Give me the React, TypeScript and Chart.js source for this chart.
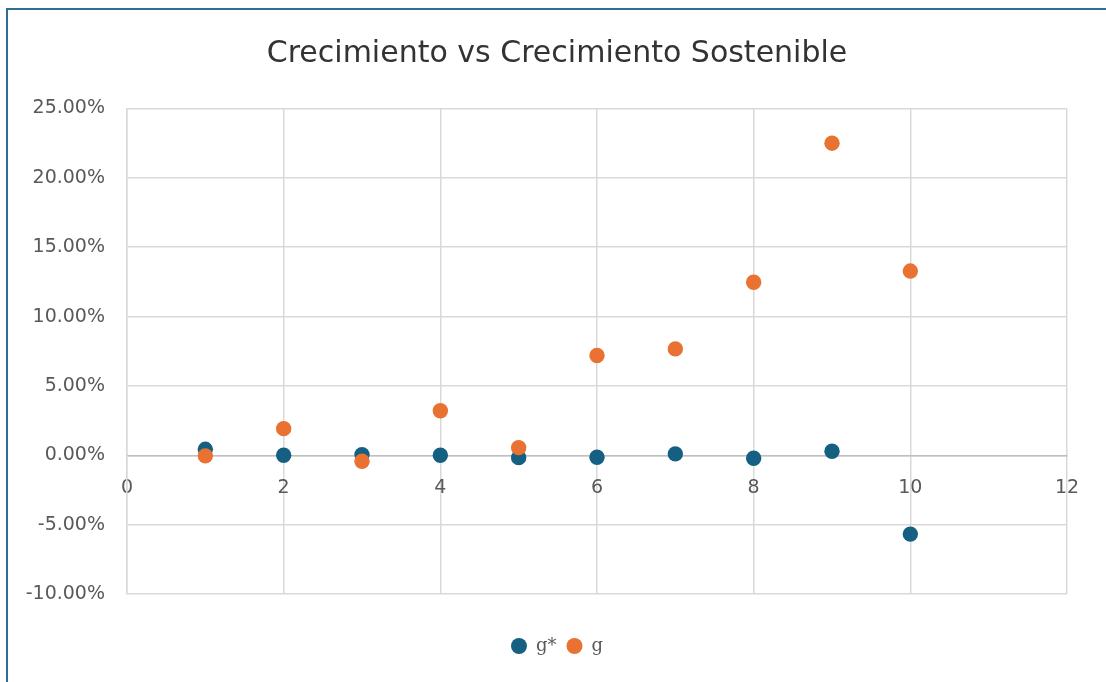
import React, { useEffect, useRef } from "react";
import { Chart, registerables } from "chart.js";

Chart.register(...registerables);

const chartTitle = "Crecimiento vs Crecimiento Sostenible";
const periods = [1, 2, 3, 4, 5, 6, 7, 8, 9, 10];
const gStarValues = [0.43, 0.0, 0.05, 0.0, -0.17, -0.14, 0.1, -0.21, 0.29, -5.68];
const gValues = [-0.04, 1.92, -0.43, 3.21, 0.55, 7.19, 7.67, 12.47, 22.5, 13.28];
const seriesLabels = ["g*", "g"];
const xTicks = { min: 0, max: 12, step: 2 };
const yTicks = { min: -10, max: 25, step: 5 };

const TEAL = "#156082";
const ORANGE = "#E97132";
const GRID = "#d9d9d9";
const TICK = "#595959";

export default function App() {
  const ref = useRef<HTMLCanvasElement | null>(null);

  useEffect(() => {
    if (!ref.current) return;
    const toPoints = (vals: number[]) => periods.map((x, i) => ({ x, y: vals[i] }));
    const chart = new Chart(ref.current, {
      type: "scatter",
      data: {
        datasets: [
          {
            label: seriesLabels[0],
            data: toPoints(gStarValues),
            backgroundColor: TEAL,
            borderColor: TEAL,
            pointRadius: 7.7,
            pointHoverRadius: 7.7,
            borderWidth: 0,
            order: 1,
          },
          {
            label: seriesLabels[1],
            data: toPoints(gValues),
            backgroundColor: ORANGE,
            borderColor: ORANGE,
            pointRadius: 7.7,
            pointHoverRadius: 7.7,
            borderWidth: 0,
            order: 0,
          },
        ],
      },
      options: {
        responsive: false,
        animation: false,
        events: [],
        layout: { padding: { top: 0, left: 0, right: 0, bottom: 17 } },
        scales: {
          x: {
            type: "linear",
            position: { y: 0 } as any,
            min: xTicks.min,
            max: xTicks.max,
            ticks: {
              stepSize: xTicks.step,
              color: TICK,
              padding: 21,
              font: { family: "DejaVu Sans", size: 19 },
              maxRotation: 0,
            },
            grid: { color: GRID, lineWidth: 1.5, drawTicks: false },
            border: { display: true, color: "#bfbfbf", width: 1.5 },
          },
          y: {
            type: "linear",
            min: yTicks.min,
            max: yTicks.max,
            ticks: {
              stepSize: yTicks.step,
              color: TICK,
              padding: 22,
              font: { family: "DejaVu Sans", size: 19 },
              callback: (v: any) => Number(v).toFixed(2) + "%",
            },
            grid: { color: GRID, lineWidth: 1.5, drawTicks: false },
            border: { display: true, color: GRID, width: 1.5 },
            afterFit: (scale: any) => {
              scale.width = 127;
            },
          },
          y2: {
            type: "linear",
            position: "right",
            display: true,
            ticks: { display: false },
            grid: { display: false, drawTicks: false },
            border: { display: false },
            afterFit: (scale: any) => {
              scale.width = 47;
            },
          },
        },
        plugins: {
          title: {
            display: true,
            text: chartTitle,
            color: "#333333",
            font: { family: "DejaVu Sans", size: 30, weight: "normal" },
            padding: { top: 36, bottom: 36.5 },
          },
          subtitle: {
            display: true,
            text: "",
            position: "bottom",
            font: { size: 10 },
            padding: { top: 21, bottom: 0 },
          },
          legend: {
            display: true,
            position: "bottom",
            weight: 2000,
            labels: {
              usePointStyle: true,
              pointStyle: "circle",
              boxWidth: 16,
              boxHeight: 11.3,
              pointStyleWidth: 16,
              padding: 10,
              color: TICK,
              font: { family: "DejaVu Serif", size: 18 },
              sort: (a: any, b: any) => a.datasetIndex - b.datasetIndex,
            },
          } as any,
          tooltip: { enabled: false },
        },
      },
    });
    return () => chart.destroy();
  }, []);

  return (
    <div
      style={{
        position: "fixed",
        left: 0,
        top: 0,
        width: 1106,
        height: 682,
        overflow: "hidden",
        background: "#ffffff",
      }}
    >
      <div
        style={{
          position: "absolute",
          left: 6,
          top: 8,
          width: 1200,
          height: 800,
          border: "2px solid #2E6E93",
          boxSizing: "border-box",
        }}
      />
      <canvas
        ref={ref}
        width={1114}
        height={682}
        style={{ position: "absolute", left: 0, top: 0, width: 1114, height: 682 }}
      />
    </div>
  );
}
